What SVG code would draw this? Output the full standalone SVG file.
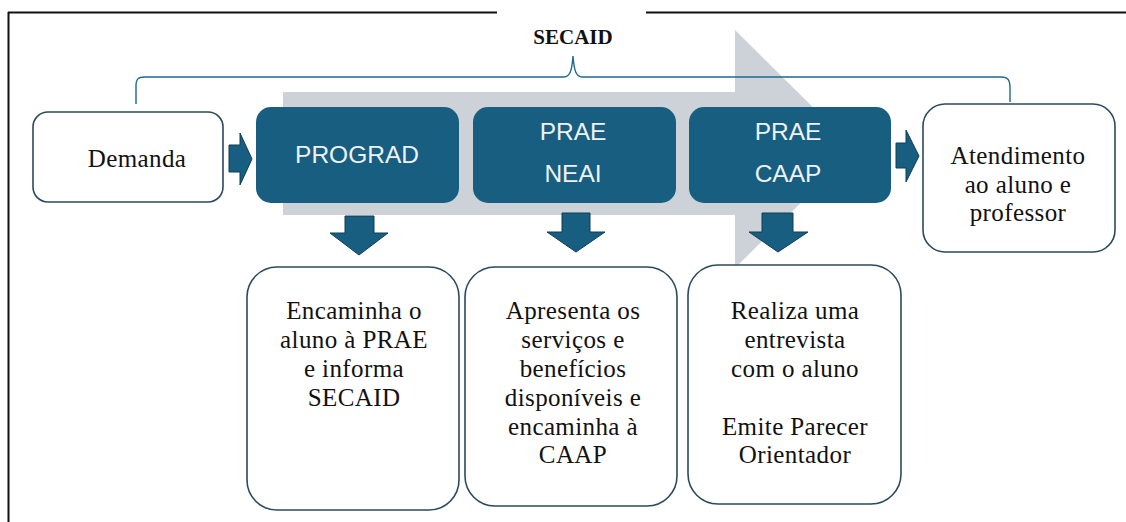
<svg xmlns="http://www.w3.org/2000/svg" width="1126" height="522" viewBox="0 0 1126 522">
<style>
.frame{stroke:#111;stroke-width:2;fill:none}
.blue{fill:#175e80}
.bt{font-family:"Liberation Sans",Arial,sans-serif;font-size:24.5px;fill:#eef2f5;text-anchor:middle}
.wbox{fill:#fff;stroke:#2b4a5b;stroke-width:1.6}
.st{font-family:"Liberation Serif","Times New Roman",serif;font-size:25px;letter-spacing:0.4px;fill:#111;text-anchor:middle}
.arr{fill:#175e80;stroke:#0f3e55;stroke-width:1}
.brace{fill:none;stroke:#1f6a8f;stroke-width:1.4}
</style>
<rect width="1126" height="522" fill="#fff"/>
<g id="frame">
<line class="frame" x1="8" y1="12.5" x2="497" y2="12.5"/>
<line class="frame" x1="646" y1="12.5" x2="1126" y2="12.5"/>
<line class="frame" x1="8.5" y1="12" x2="8.5" y2="522"/>
</g>
<g id="big-arrow">
<polygon points="283,92 735,92 735,30 855,149 735,268 735,215 283,215" fill="#cdd1d8"/>
</g>
<g id="secaid">
<text x="573" y="44" font-family="'Liberation Serif','Times New Roman',serif" font-size="21" font-weight="bold" text-anchor="middle" fill="#111">SECAID</text>
<path class="brace" d="M136,104 L136,86 C136,79 138,77 145,77 L564,77 C570,77 572,70 573,56 C574,70 576,77 582,77 L1001,77 C1008,77 1010,80 1010,88 L1010,102"/>
</g>
<g id="connectors">
<polygon class="arr" points="229,145 240,145 240,133 252,159 240,185 240,172 229,172"/>
<polygon class="arr" points="896,143 906,143 906,130 919,156 906,182 906,168 896,168"/>
<polygon class="arr" points="345,216 374,216 374,233 388,233 359,255 330,233 345,233"/>
<polygon class="arr" points="562,213 590,213 590,232 605,232 576,252 547,232 562,232"/>
<polygon class="arr" points="762,213 793,213 793,232 808,232 778,252 749,232 762,232"/>
</g>
<g id="demanda">
<rect class="wbox" x="33" y="112" width="190" height="90" rx="15"/>
<text class="st" x="137" y="167">Demanda</text>
</g>
<g id="prograd">
<rect class="blue" x="256" y="107" width="203" height="96" rx="15"/>
<text class="bt" x="357" y="163">PROGRAD</text>
</g>
<g id="prae-neai">
<rect class="blue" x="473" y="107" width="203" height="96" rx="15"/>
<text class="bt" x="573" y="140">PRAE</text>
<text class="bt" x="573" y="182">NEAI</text>
</g>
<g id="prae-caap">
<rect class="blue" x="689" y="107" width="202" height="96" rx="15"/>
<text class="bt" x="788" y="140">PRAE</text>
<text class="bt" x="788" y="182">CAAP</text>
</g>
<g id="atendimento">
<rect class="wbox" x="923" y="104" width="192" height="148" rx="22"/>
<text class="st" x="1018" y="164">Atendimento</text>
<text class="st" x="1018" y="193">ao aluno e</text>
<text class="st" x="1018" y="221">professor</text>
</g>
<g id="box-prograd">
<rect class="wbox" x="247" y="267" width="212" height="243" rx="30"/>
<text class="st" x="354" y="319">Encaminha o</text>
<text class="st" x="354" y="348">aluno à PRAE</text>
<text class="st" x="354" y="377">e informa</text>
<text class="st" x="354" y="406">SECAID</text>
</g>
<g id="box-neai">
<rect class="wbox" x="465" y="267" width="212" height="239" rx="30"/>
<text class="st" x="573" y="319">Apresenta os</text>
<text class="st" x="573" y="348">serviços e</text>
<text class="st" x="573" y="377">benefícios</text>
<text class="st" x="573" y="406">disponíveis e</text>
<text class="st" x="573" y="435">encaminha à</text>
<text class="st" x="573" y="463">CAAP</text>
</g>
<g id="box-caap">
<rect class="wbox" x="688" y="265" width="213" height="239" rx="30"/>
<text class="st" x="795" y="319">Realiza uma</text>
<text class="st" x="795" y="348">entrevista</text>
<text class="st" x="795" y="377">com o aluno</text>
<text class="st" x="795" y="435">Emite Parecer</text>
<text class="st" x="795" y="463">Orientador</text>
</g>
</svg>
